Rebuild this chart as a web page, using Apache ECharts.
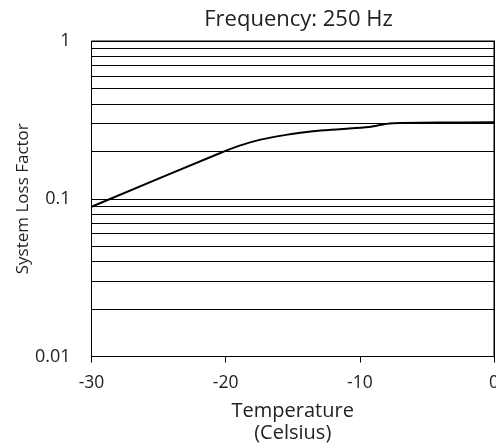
<!DOCTYPE html>
<html>
<head>
<meta charset="utf-8">
<script src="https://cdn.jsdelivr.net/npm/echarts@6/dist/echarts.min.js"></script>
<style>html,body{margin:0;padding:0;background:#fff}#c{width:496px;height:446px}</style>
</head>
<body>
<div id="c"></div>
<script>
var temps = [-30, -20.4, -18.9, -17.4, -15.5, -13.5, -11.5, -9.3, -8.5, -7.8, -7, -4, 0];
var lossFactor = [0.089, 0.195, 0.218, 0.237, 0.254, 0.268, 0.276, 0.285, 0.293, 0.300, 0.302, 0.304, 0.305];
var minorGrid = [0.02, 0.03, 0.04, 0.05, 0.06, 0.07, 0.08, 0.09, 0.2, 0.3, 0.4, 0.5, 0.6, 0.7, 0.8, 0.9];
var titleText = 'Frequency: 250 Hz';
var xName = 'Temperature\n(Celsius)';
var yName = 'System Loss Factor';

var font = '"Open Sans", "Noto Sans", sans-serif';
var chart = echarts.init(document.getElementById('c'));
chart.setOption({
  animation: false,
  backgroundColor: '#fff',
  title: {
    text: titleText, left: 293.5, top: 4, textAlign: 'center',
    textStyle: {fontFamily: font, fontSize: 22, fontWeight: 'normal', color: '#222'}
  },
  grid: {left: 91.5, right: 2, top: 41, bottom: 89.5, outerBoundsMode: 'none', containLabel: false,
         show: true, borderColor: '#000', borderWidth: 1, backgroundColor: 'transparent'},
  xAxis: {
    type: 'value', min: -30, max: 0, interval: 10,
    name: xName, nameLocation: 'middle', nameGap: 44, nameMoveOverlap: false,
    nameTextStyle: {fontFamily: font, fontSize: 20, color: '#222', lineHeight: 22},
    axisLine: {show: true, onZero: false, lineStyle: {color: '#000', width: 1}},
    axisTick: {show: true, length: 6, lineStyle: {color: '#000'}},
    axisLabel: {fontFamily: font, fontSize: 17.5, color: '#222', margin: 18},
    splitLine: {show: false}
  },
  yAxis: {
    type: 'log', logBase: 10, min: 0.01, max: 1,
    name: yName, nameLocation: 'middle', nameGap: 60, nameMoveOverlap: false,
    nameTextStyle: {fontFamily: font, fontSize: 17, color: '#222'},
    axisLine: {show: true, lineStyle: {color: '#000', width: 1}},
    axisTick: {show: true, length: 6, lineStyle: {color: '#000'}},
    axisLabel: {fontFamily: font, fontSize: 18, color: '#222', margin: 21},
    splitLine: {show: true, lineStyle: {color: '#000', width: 1}}
  },
  series: [{
    type: 'line',
    data: temps.map(function (t, i) { return [t, lossFactor[i]]; }),
    smooth: 0.3,
    showSymbol: false,
    lineStyle: {color: '#000', width: 2},
    markLine: {
      silent: true, symbol: 'none', label: {show: false},
      lineStyle: {color: '#000', width: 1, type: 'solid'},
      data: minorGrid.map(function (v) { return {yAxis: v}; })
    }
  }]
});
</script>
</body>
</html>
